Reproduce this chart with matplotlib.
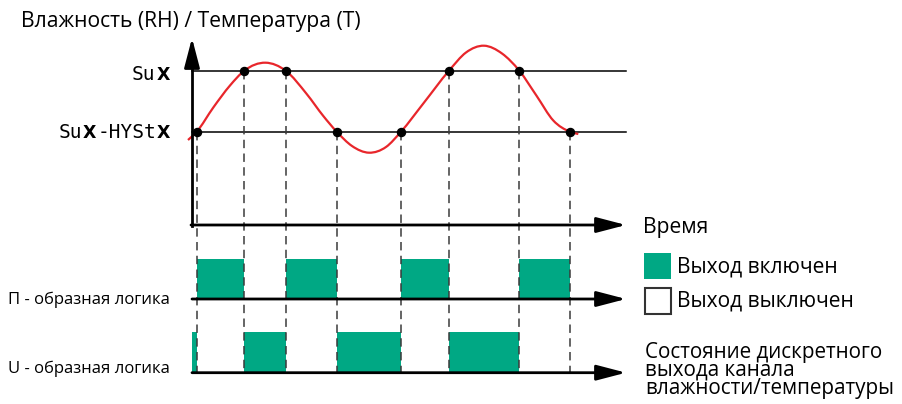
import numpy as np
import matplotlib
matplotlib.use("Agg")
import matplotlib.pyplot as plt
from matplotlib.path import Path
from matplotlib.patches import PathPatch, Rectangle

# --- data (pixel-like diagram units, y grows downwards) ---
su_level = 70.7        # SuX
hyst_level = 131.7     # SuX-HYStX

# signal curve, points
curve_t = [188, 196.7, 213.3, 230, 244.3, 265.5, 285.7, 306.7, 323.3, 336.7,
           352, 369, 386, 401, 423.3, 449, 466, 484, 502, 519.3, 536.7, 553.3, 570, 578.3]
curve_v = [140, 131.7, 107.5, 85.5, 70.7, 62.7, 70.7, 94, 116, 131.7,
           146, 152.7, 147, 131.7, 103.5, 70.7, 52.5, 45.7, 53.5, 70.7, 96, 120.5, 131.7, 134]

# threshold crossings (time, level)
cross_t = [196.7, 244.3, 285.7, 336.7, 401, 449, 519.3, 570]
cross_v = [hyst_level, su_level, su_level, hyst_level, hyst_level, su_level, su_level, hyst_level]

# output "on" intervals
p_on = [(196.7, 244.3), (285.7, 336.7), (401, 449), (519.3, 570)]
u_on = [(192, 196.7), (244.3, 285.7), (336.7, 401), (449, 519.3)]

teal = "#00a884"
red = "#e8262b"

plt.rcParams['font.family'] = ['Open Sans', 'DejaVu Sans']

fig = plt.figure(figsize=(9.03, 4.04), dpi=100)
ax = fig.add_axes([0, 0, 1, 1])
ax.set_xlim(0, 903)
ax.set_ylim(404, 0)
ax.axis('off')

x0, x_end = 192, 626
time_y, p_y, u_y = 225, 299, 372.7
p_top, u_top = 259.3, 332


def arrow(x1, y1, x2, y2):
    ax.annotate('', xy=(x2, y2), xytext=(x1, y1),
                arrowprops=dict(arrowstyle='-|>,head_length=1.8,head_width=0.47',
                                mutation_scale=10, lw=2, color='black',
                                shrinkA=0, shrinkB=0), zorder=5)


# bars of the output states
for a, b in p_on:
    ax.add_patch(Rectangle((a, p_top), b - a, p_y - p_top, color=teal, lw=0, zorder=1))
for a, b in u_on:
    ax.add_patch(Rectangle((a, u_top), b - a, u_y - u_top, color=teal, lw=0, zorder=1))

# threshold lines
ax.plot([x0, x_end], [su_level, su_level], color='black', lw=1.1, zorder=2)
ax.plot([x0, x_end], [hyst_level, hyst_level], color='black', lw=1.1, zorder=2)

# dashed guides
for t, v in zip(cross_t, cross_v):
    ax.plot([t, t], [v, u_y], color='#3a3a3a', lw=1.1, dashes=(5.5, 3.5), zorder=3)

# smooth curve through the read points (Hermite in x -> cubic Bezier segments)
x = np.array(curve_t, float)
y = np.array(curve_v, float)
h = np.diff(x)
d = np.diff(y) / h
m = np.empty_like(y)
m[0], m[-1] = d[0], d[-1]
m[1:-1] = (d[:-1] * h[1:] + d[1:] * h[:-1]) / (h[:-1] + h[1:])
verts = [(x[0], y[0])]
codes = [Path.MOVETO]
for i in range(len(x) - 1):
    verts += [(x[i] + h[i] / 3, y[i] + m[i] * h[i] / 3),
              (x[i + 1] - h[i] / 3, y[i + 1] - m[i + 1] * h[i] / 3),
              (x[i + 1], y[i + 1])]
    codes += [Path.CURVE4] * 3
ax.add_patch(PathPatch(Path(verts, codes), fill=False, edgecolor=red, lw=1.6, zorder=4))

ax.plot(cross_t, cross_v, 'o', color='black', ms=5.8, zorder=6)

# axes
ax.plot([x0, x0], [time_y + 1, 60], color='black', lw=2, zorder=5)
arrow(x0, 60, x0, 38)
arrow(x0 - 1, time_y, x_end, time_y)
arrow(x0, p_y, x_end, p_y)
arrow(x0, u_y, x_end, u_y)

# texts
ax.text(21, 21, "Влажность (RH) / Температура (T)", fontsize=15.2, va='center', ha='left')
ax.text(643, 228, "Время", fontsize=15.2, va='center', ha='left')
ax.text(8, 300, "П - образная логика", fontsize=12, va='center', ha='left')
ax.text(8, 369, "U - образная логика", fontsize=12, va='center', ha='left')

ax.add_patch(Rectangle((644, 253), 27, 26, color=teal, lw=0))
ax.add_patch(Rectangle((645, 288), 26, 26, facecolor='white', edgecolor='#333333', lw=1.5))
ax.text(677, 267, "Выход включен", fontsize=15.1, va='center', ha='left')
ax.text(677, 301, "Выход выключен", fontsize=15.1, va='center', ha='left')
ax.text(645, 342, "Состояние дискретного\nвыхода канала\nвлажности/температуры",
        fontsize=14.9, va='top', ha='left', linespacing=0.8)

seg = dict(family='DejaVu Sans Mono', fontsize=14, va='center', ha='left')
bold = dict(family='DejaVu Sans', weight='bold', fontsize=12.5, va='center')
ax.text(132, 75, "Su", **seg)
ax.text(170, 75, "X", ha='right', **bold)
ax.text(59, 133, "Su", **seg)
ax.text(83, 133, "X", ha='left', **bold)
ax.text(98, 133, "-HYSt", **seg)
ax.text(170, 133, "X", ha='right', **bold)

fig.savefig("out.png", dpi=100)
